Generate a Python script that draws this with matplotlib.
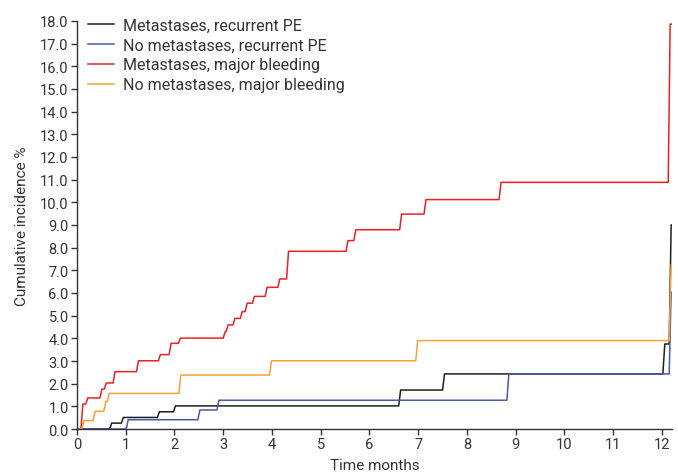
import numpy as np
import matplotlib
matplotlib.use("Agg")
import matplotlib.pyplot as plt

plt.rcParams['font.family'] = ['Roboto', 'DejaVu Sans']

# step times (months) and cumulative incidence (%) reached at each step
met_pe_t = [0.67, 0.91, 1.65, 1.98, 6.60, 7.50, 12.02, 12.15]
met_pe_v = [0.26, 0.51, 0.76, 1.02, 1.72, 2.43, 3.75, 9.00]

nomet_pe_t = [1.01, 2.48, 2.87, 8.82, 12.15]
nomet_pe_v = [0.41, 0.84, 1.27, 2.43, 6.03]

met_bl_t = [0.08, 0.18, 0.47, 0.56, 0.74, 1.22, 1.67, 1.89, 2.08, 3.00, 3.06,
            3.20, 3.35, 3.45, 3.60, 3.86, 4.12, 4.30, 5.52, 5.68, 6.62, 7.12,
            8.66, 12.13]
met_bl_v = [1.10, 1.37, 1.76, 2.03, 2.53, 3.01, 3.28, 3.78, 4.01, 4.30, 4.59,
            4.88, 5.18, 5.55, 5.85, 6.25, 6.62, 7.84, 8.31, 8.79, 9.48, 10.12,
            10.88, 17.86]

nomet_bl_t = [0.10, 0.33, 0.55, 0.62, 2.09, 3.95, 6.95, 12.15]
nomet_bl_v = [0.37, 0.78, 1.22, 1.57, 2.38, 3.01, 3.90, 7.25]

labels = ["Metastases, recurrent PE", "No metastases, recurrent PE",
          "Metastases, major bleeding", "No metastases, major bleeding"]
colors = ["#1e1e1e", "#4a5ba8", "#ea2128", "#f8a134"]
t_end = 12.2
ramp = 0.04


def step_path(ts, vs):
    x = [0.0]
    y = [0.0]
    prev = 0.0
    for t, v in zip(ts, vs):
        x += [t, t + ramp]
        y += [prev, v]
        prev = v
    if x[-1] < t_end:
        x.append(t_end)
        y.append(prev)
    return x, y


fig = plt.figure(figsize=(6.78, 4.77), dpi=100)
ax = fig.add_axes([0.1136, 0.0985, 0.877, 0.8555])

series = [(met_pe_t, met_pe_v), (nomet_pe_t, nomet_pe_v),
          (met_bl_t, met_bl_v), (nomet_bl_t, nomet_bl_v)]
for (ts, vs), lab, c in zip(series, labels, colors):
    x, y = step_path(ts, vs)
    ax.plot(x, y, color=c, lw=1.1, label=lab)

ax.set_xlim(0, t_end)
ax.set_ylim(0, 18)
ax.set_xticks(range(0, 13))
ax.set_yticks(np.arange(0, 18.5, 1.0))
ax.set_yticklabels([f"{v:.1f}" for v in np.arange(0, 18.5, 1.0)])

for s in ["top", "right"]:
    ax.spines[s].set_visible(False)
for s in ["left", "bottom"]:
    ax.spines[s].set_color("#333333")
    ax.spines[s].set_linewidth(1.0)
ax.tick_params(direction="out", length=4, width=1.0, color="#333333",
               labelcolor="#333333", labelsize=10.5, pad=2)

ax.set_xlabel("Time months", fontsize=11, color="#333333", labelpad=5)
ax.set_ylabel("Cumulative incidence %", fontsize=11, color="#333333", labelpad=8)

leg = ax.legend(loc="upper left", bbox_to_anchor=(0.0, 1.035), frameon=False,
                fontsize=11.5, handlelength=1.6, handletextpad=0.55,
                labelspacing=0.3, borderaxespad=0.3)
for txt in leg.get_texts():
    txt.set_color("#333333")

fig.savefig("out.png", dpi=100)
